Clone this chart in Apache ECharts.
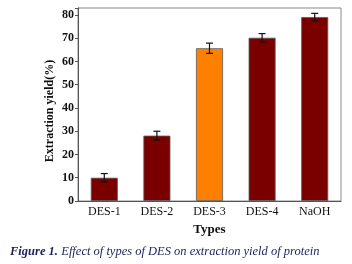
<!DOCTYPE html>
<html><head><meta charset="utf-8">
<script src="https://cdn.jsdelivr.net/npm/echarts@6/dist/echarts.min.js"></script>
<style>html,body{margin:0;padding:0;background:#fff}#c{width:352px;height:264px}</style>
</head><body><div id="c"></div>
<script>
var categories = ['DES-1','DES-2','DES-3','DES-4','NaOH'];
var yields = [10.0, 28.1, 65.7, 70.2, 79.1];
var errors = [1.8, 1.9, 2.2, 1.8, 1.6];
var highlightIndex = 2;
var yTicks = [0,10,20,30,40,50,60,70,80];

var chart = echarts.init(document.getElementById('c'));
var serif = '"Liberation Serif","DejaVu Serif",serif';
var errData = categories.map(function(c,i){return [i, yields[i]-errors[i], yields[i]+errors[i]];});
chart.setOption({
  animation:false,
  grid:{left:78, top:8, right:11, bottom:63, show:true, borderColor:'#8a8a8a', borderWidth:1},
  xAxis:{type:'category', data:categories, name:'Types', nameLocation:'middle', nameGap:22,
    nameTextStyle:{fontFamily:serif, fontWeight:'bold', fontSize:13, color:'#111'},
    axisLine:{lineStyle:{color:'#555'}}, axisTick:{alignWithLabel:true, length:3, lineStyle:{color:'#555'}},
    axisLabel:{fontFamily:serif, fontSize:12, color:'#111', margin:5}},
  yAxis:{type:'value', min:0, max:83, interval:10,
    axisLine:{show:true, lineStyle:{color:'#555'}}, axisTick:{show:true, length:3, lineStyle:{color:'#555'}},
    splitLine:{show:false},
    axisLabel:{fontFamily:serif, fontWeight:'bold', fontSize:12, color:'#111', margin:4,
      formatter:function(v){return yTicks.indexOf(v)>=0?String(v):'';}}},
  series:[
    {type:'bar', barWidth:27, data:yields.map(function(v,i){return {value:v, itemStyle:{color: i===highlightIndex?'#ff8000':'#7a0000'}};}),
     itemStyle:{borderColor:'#5a5a5a', borderWidth:0.8}},
    {type:'custom', data:errData, z:5, renderItem:function(params, api){
      var x=api.value(0), lo=api.coord([x, api.value(1)]), hi=api.coord([x, api.value(2)]);
      var w=3.5, st={stroke:'#111', lineWidth:1.2};
      return {type:'group', children:[
        {type:'line', shape:{x1:lo[0],y1:lo[1],x2:hi[0],y2:hi[1]}, style:st},
        {type:'line', shape:{x1:lo[0]-w,y1:lo[1],x2:lo[0]+w,y2:lo[1]}, style:st},
        {type:'line', shape:{x1:hi[0]-w,y1:hi[1],x2:hi[0]+w,y2:hi[1]}, style:st}]};
    }}
  ],
  graphic:[
    {type:'text', x:50, y:111, rotation:Math.PI/2, style:{text:'Extraction yield(%)', align:'center', verticalAlign:'middle',
      fontFamily:serif, fontWeight:'bold', fontSize:12, fill:'#111'}},
    {type:'text', left:10, top:245, style:{rich:{b:{fontFamily:serif, fontWeight:'bold', fontStyle:'italic', fontSize:12.5, fill:'#1f1f5a'}, i:{fontFamily:serif, fontStyle:'italic', fontSize:12.5, fill:'#1f1f5a'}},
    text:'{b|Figure 1.} {i|Effect of types of DES on extraction yield of protein}'}}]
});
</script></body></html>
